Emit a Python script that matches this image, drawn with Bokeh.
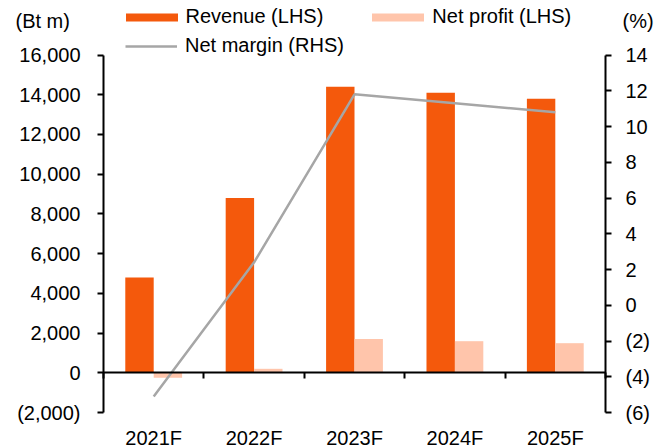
import numpy as np
from bokeh.plotting import figure
from bokeh.models import (Range1d, LinearAxis, FixedTicker, Legend, LegendItem,
                          Label, CustomJSTickFormatter, ColumnDataSource)
from bokeh.embed import file_html
from bokeh.resources import INLINE

# ---------------- data ----------------
years = ["2021F", "2022F", "2023F", "2024F", "2025F"]
revenue = [4800, 8800, 14400, 14100, 13800]          # Bt m (LHS)
net_profit = [-245, 200, 1700, 1590, 1490]           # Bt m (LHS)
net_margin = [-5.1, 2.4, 11.8, 11.3, 10.8]           # % (RHS)
left_ticks = [-2000, 0, 2000, 4000, 6000, 8000, 10000, 12000, 14000, 16000]
right_ticks = [-6, -4, -2, 0, 2, 4, 6, 8, 10, 12, 14]

# ---------------- style / layout ----------------
FONT = "Liberation Sans"
FS = "20px"
ORANGE = "#F4590C"
PEACH = "#FFC5AB"
GREY = "#A6A6A6"

W, H = 670, 448
# plot-area geometry in canvas pixels (frame covers the whole canvas)
AX_L, AX_R = 103, 605          # left / right axis lines
Y_TOP_PX, Y_BOT_PX = 54.5, 412.0   # pixel rows of the top / bottom ticks

n = len(years)
xs = (AX_R - AX_L) / n
x_range = Range1d(-AX_L / xs, n + (W - AX_R) / xs)

lmin, lmax = left_ticks[0], left_ticks[-1]
rmin, rmax = right_ticks[0], right_ticks[-1]
ls = (lmax - lmin) / (Y_BOT_PX - Y_TOP_PX)
rs = (rmax - rmin) / (Y_BOT_PX - Y_TOP_PX)
y_range = Range1d(lmin - (H - Y_BOT_PX) * ls, lmax + Y_TOP_PX * ls)
r_range = Range1d(rmin - (H - Y_BOT_PX) * rs, rmax + Y_TOP_PX * rs)

centers = np.arange(n) + 0.5
BAR_W = 0.283

p = figure(width=W, height=H, output_backend="svg", toolbar_location=None,
           x_range=x_range, y_range=y_range,
           x_axis_location=None, y_axis_location=None,
           min_border_left=0, min_border_right=0, min_border_top=0, min_border_bottom=0)
p.extra_y_ranges = {"right": r_range}
p.grid.visible = False
p.outline_line_color = None
p.background_fill_color = "white"
p.border_fill_color = "white"

src = ColumnDataSource(dict(x=centers, rev_x=centers - BAR_W / 2, np_x=centers + BAR_W / 2,
                            revenue=revenue, profit=net_profit, margin=net_margin))

rev = p.vbar(x="rev_x", top="revenue", bottom=0, width=BAR_W, source=src,
             fill_color=ORANGE, line_color=None)
prof = p.vbar(x="np_x", top="profit", bottom=0, width=BAR_W, source=src,
              fill_color=PEACH, line_color=None)
mar = p.line(x="x", y="margin", source=src, y_range_name="right",
             line_color=GREY, line_width=2.5)

paren = CustomJSTickFormatter(code="""
const a = Math.abs(tick).toLocaleString('en-US');
return tick < 0 ? '(' + a + ')' : a;
""")


def style_axis(ax, standoff):
    ax.axis_line_color = "black"
    ax.axis_line_width = 2
    ax.major_tick_line_color = "black"
    ax.major_tick_line_width = 2
    ax.major_tick_out = 6
    ax.major_tick_in = 0
    ax.minor_tick_out = 0
    ax.minor_tick_in = 0
    ax.major_label_text_font = FONT
    ax.major_label_text_font_size = FS
    ax.major_label_text_color = "black"
    ax.major_label_standoff = standoff


yl = LinearAxis(ticker=FixedTicker(ticks=left_ticks), formatter=paren,
                bounds=(lmin, lmax), fixed_location=0)
style_axis(yl, 17)
p.add_layout(yl, "left")

yr = LinearAxis(y_range_name="right", ticker=FixedTicker(ticks=right_ticks),
                formatter=paren, bounds=(rmin, rmax), fixed_location=n)
style_axis(yr, 14)
p.add_layout(yr, "right")

# zero line with category-boundary ticks
x0 = LinearAxis(ticker=FixedTicker(ticks=list(range(n + 1))),
                formatter=CustomJSTickFormatter(code="return '';"),
                fixed_location=0, bounds=(0, n))
style_axis(x0, 0)
p.add_layout(x0, "below")

# category labels
xl = LinearAxis(ticker=FixedTicker(ticks=list(centers)),
                formatter=CustomJSTickFormatter(args=dict(labels=years),
                                                code="return labels[Math.floor(tick)];"),
                fixed_location=lmin, bounds=(0, n))
style_axis(xl, 14)
xl.axis_line_color = None
xl.major_tick_line_color = None
xl.major_tick_out = 0
p.add_layout(xl, "below")

# legends
leg1 = Legend(items=[LegendItem(label="Revenue (LHS)", renderers=[rev]),
                     LegendItem(label="Net profit (LHS)", renderers=[prof])],
              orientation="horizontal", location=(118.5, 420),
              glyph_width=65, glyph_height=10, label_standoff=2, spacing=42,
              padding=0, margin=0, border_line_color=None, background_fill_alpha=0,
              label_text_font=FONT, label_text_font_size=FS, label_text_color="black")
leg2 = Legend(items=[LegendItem(label="Net margin (RHS)", renderers=[mar])],
              orientation="horizontal", location=(125, 391),
              glyph_width=52, glyph_height=10, label_standoff=8,
              padding=0, margin=0, border_line_color=None, background_fill_alpha=0,
              label_text_font=FONT, label_text_font_size=FS, label_text_color="black")
p.add_layout(leg1)
p.add_layout(leg2)

for txt, xpx in (("(Bt m)", 15), ("(%)", 622)):
    p.add_layout(Label(x=xpx, y=H - 20, x_units="screen", y_units="screen",
                       text=txt, text_baseline="middle", text_align="left",
                       text_font=FONT, text_font_size=FS, text_color="black"))

open("out.html", "w").write(file_html(p, INLINE))
